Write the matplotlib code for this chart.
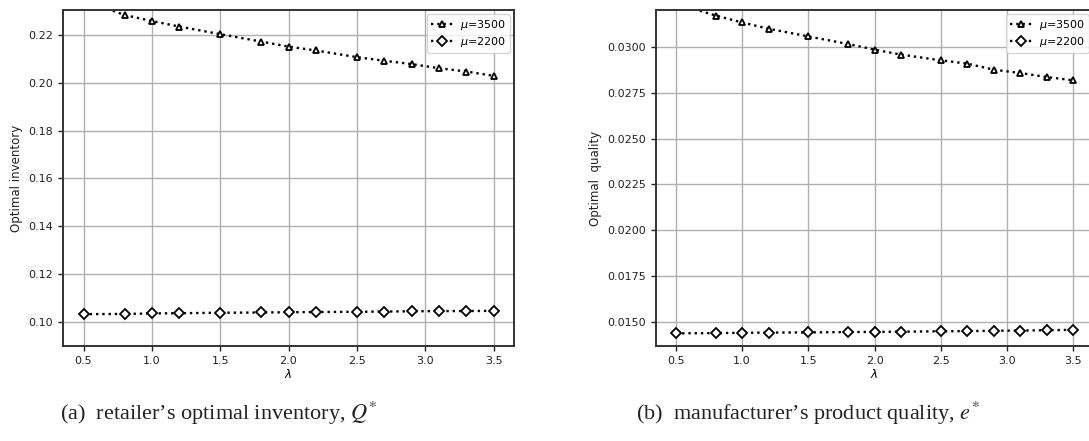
import matplotlib
matplotlib.use("Agg")
import matplotlib.pyplot as plt

lam = [0.5, 0.8, 1.0, 1.2, 1.5, 1.8, 2.0, 2.2, 2.5, 2.7, 2.9, 3.1, 3.3, 3.5]
Q_3500 = [0.2346, 0.2283, 0.2258, 0.2235, 0.2203, 0.2172, 0.2151, 0.2135,
          0.2107, 0.2092, 0.2078, 0.2061, 0.2047, 0.2029]
Q_2200 = [0.1033, 0.1034, 0.1036, 0.1037, 0.1039, 0.1040, 0.1041, 0.1042,
          0.1043, 0.1044, 0.1045, 0.1046, 0.1046, 0.1047]
e_3500 = [0.03236, 0.03170, 0.03132, 0.03098, 0.03056, 0.03015, 0.02984, 0.02957,
          0.02926, 0.02908, 0.02875, 0.02857, 0.02835, 0.02817]
e_2200 = [0.01439, 0.01440, 0.01442, 0.01443, 0.01444, 0.01446, 0.01447, 0.01448,
          0.01450, 0.01451, 0.01453, 0.01454, 0.01456, 0.01458]
labels = [r"$\mu$=3500", r"$\mu$=2200"]
q_yticks = [0.10, 0.12, 0.14, 0.16, 0.18, 0.20, 0.22]
e_yticks = [0.0150, 0.0175, 0.0200, 0.0225, 0.0250, 0.0275, 0.0300]
xticks = [0.5, 1.0, 1.5, 2.0, 2.5, 3.0, 3.5]

W, H = 1089, 441
fig = plt.figure(figsize=(W / 100, H / 100), dpi=100)

def px_axes(l, t, r, b):
    return fig.add_axes([l / W, 1 - b / H, (r - l) / W, (b - t) / H])

ax1 = px_axes(63, 10, 514, 346)
ax2 = px_axes(656, 10, 1093, 346)

def style(ax, y1, y2, ylabel, yticks, ylim, fmt):
    ax.plot(lam, y1, linestyle=":", color="black", lw=1.7, marker="^",
            markersize=5, markerfacecolor="white", markeredgecolor="black",
            markeredgewidth=1.3, label=labels[0])
    ax.plot(lam, y2, linestyle=":", color="black", lw=1.7, marker="D",
            markersize=5.5, markerfacecolor="white", markeredgecolor="black",
            markeredgewidth=1.3, label=labels[1])
    ax.set_xlim(0.35, 3.65)
    ax.set_ylim(*ylim)
    ax.set_xticks(xticks)
    ax.set_yticks(yticks)
    ax.set_yticklabels([fmt % v for v in yticks])
    ax.grid(True, color="#b0b0b0", lw=1.0)
    ax.set_axisbelow(True)
    ax.tick_params(labelsize=8, colors="#222222", width=1.0, length=3.5)
    for s in ax.spines.values():
        s.set_linewidth(1.4)
        s.set_color("#333333")
    ax.set_ylabel(ylabel, fontsize=8.5, color="#222222", labelpad=4)
    ax.set_xlabel(r"$\lambda$", fontsize=8.5, labelpad=2)
    ax.legend(loc="upper right", fontsize=8, handlelength=2.0,
              handletextpad=0.6, borderpad=0.35, labelspacing=0.25,
              framealpha=0.8, borderaxespad=0.4)

style(ax1, Q_3500, Q_2200, "Optimal inventory", q_yticks, (0.090, 0.2304), "%.2f")
style(ax2, e_3500, e_2200, "Optimal  quality", e_yticks, (0.0137, 0.0320), "%.4f")

cap_font = dict(family=["Liberation Serif", "DejaVu Serif"], fontsize=16,
                color="#222222", math_fontfamily="stix")
fig.text(60 / W, 1 - 413 / H, r"(a)  retailer’s optimal inventory, $Q^{*}$",
         ha="left", va="center", **cap_font)
fig.text(636 / W, 1 - 413 / H, r"(b)  manufacturer’s product quality, $e^{*}$",
         ha="left", va="center", **cap_font)

fig.savefig("out.png", dpi=100)
